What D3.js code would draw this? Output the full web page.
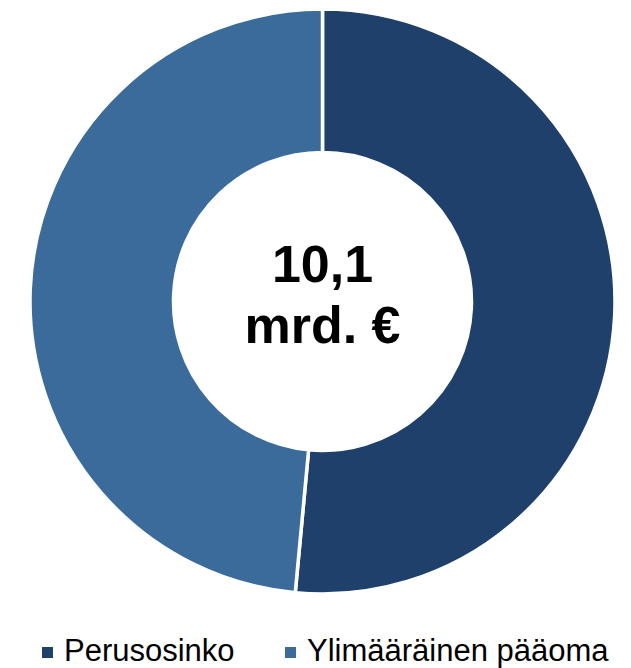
<!DOCTYPE html>
<html>
<head>
<meta charset="utf-8">
<script src="https://cdn.jsdelivr.net/npm/d3@7"></script>
<style>
  body { margin: 0; background: #fff; }
  text { font-family: "Liberation Sans", Arial, sans-serif; }
</style>
</head>
<body>
<div id="canvas"></div>
<script>
// DATA
const categories = ["Perusosinko", "Ylimääräinen pääoma"];
const values = [5.2, 4.9];
const colors = ["#1f406a", "#3a6b9b"];
const centerLines = ["10,1", "mrd. €"];

// DIMENSIONS
const width = 631;
const height = 668;
const cx = 322.5, cy = 301.5;
const outerR = 292.5, innerR = 149;

const svg = d3.select("#canvas")
  .append("svg")
  .attr("width", width)
  .attr("height", height);

// DONUT
const pie = d3.pie().sort(null).value(d => d.value);
const arc = d3.arc().innerRadius(innerR).outerRadius(outerR);

const slices = categories.map((c, i) => ({ name: c, value: values[i] }));
const color = d3.scaleOrdinal(categories, colors);

const plot = svg.append("g")
  .attr("transform", `translate(${cx},${cy})`);

plot.selectAll("path").data(pie(slices)).enter()
  .append("path")
  .attr("d", arc)
  .attr("fill", d => color(d.data.name))
  .attr("stroke", "#fff")
  .attr("stroke-width", 3.5);

// CENTER LABEL
plot.selectAll("text.center").data(centerLines).enter()
  .append("text")
  .attr("class", "center")
  .attr("x", 0)
  .attr("y", (d, i) => i === 0 ? -20 : 41.5)
  .attr("text-anchor", "middle")
  .style("font-weight", "bold")
  .style("font-size", "52px")
  .text(d => d);

// LEGEND
const legendX = d3.scaleOrdinal(categories, [42, 285]);
const legend = svg.selectAll("g.legend").data(categories).enter()
  .append("g")
  .attr("class", "legend")
  .attr("transform", d => `translate(${legendX(d)},0)`);

legend.append("rect")
  .attr("x", 0)
  .attr("y", 647)
  .attr("width", 11)
  .attr("height", 11)
  .attr("fill", d => color(d));

legend.append("text")
  .attr("x", 22)
  .attr("y", 661)
  .style("font-size", "31px")
  .attr("fill", "#000")
  .text(d => d);
</script>
</body>
</html>
